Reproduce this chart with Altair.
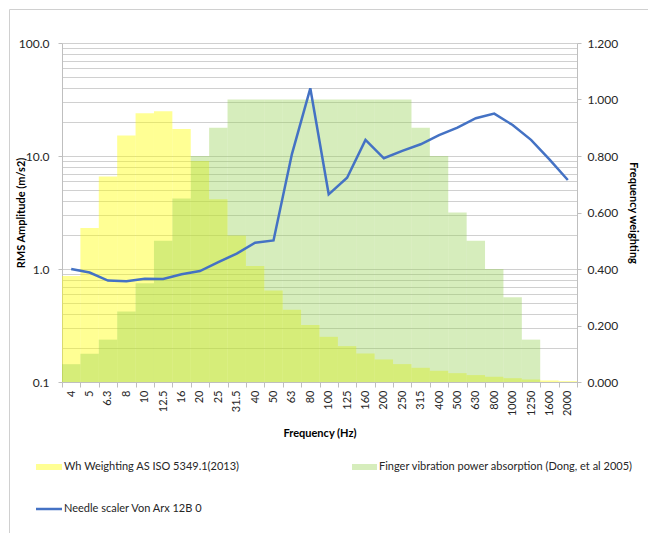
import altair as alt
import pandas as pd

# One-third-octave band centre frequencies (Hz)
freq_labels = ["4", "5", "6.3", "8", "10", "12.5", "16", "20", "25", "31.5",
               "40", "50", "63", "80", "100", "125", "160", "200", "250", "315",
               "400", "500", "630", "800", "1000", "1250", "1600", "2000"]

# Wh frequency weighting (right axis)
wh_weighting = [0.375, 0.545, 0.727, 0.873, 0.951, 0.958, 0.896, 0.782, 0.647, 0.519,
                0.411, 0.324, 0.256, 0.202, 0.160, 0.127, 0.101, 0.0799, 0.0634, 0.0503,
                0.0398, 0.0314, 0.0245, 0.0186, 0.0135, 0.00894, 0.00536, 0.00295]

# Finger vibration power absorption weighting (right axis)
finger_absorption = [0.063, 0.10, 0.15, 0.25, 0.35, 0.50, 0.65, 0.80, 0.90, 1.0,
                     1.0, 1.0, 1.0, 1.0, 1.0, 1.0, 1.0, 1.0, 1.0, 0.90,
                     0.80, 0.60, 0.50, 0.40, 0.30, 0.15, 0.0, 0.0]

# Measured RMS amplitude of the needle scaler (left axis, m/s2)
needle_scaler = [1.00, 0.93, 0.79, 0.78, 0.82, 0.815, 0.90, 0.96, 1.15, 1.37,
                 1.71, 1.79, 10.4, 39.7, 4.58, 6.43, 13.9, 9.55, 11.1, 12.7,
                 15.3, 17.8, 21.6, 23.7, 18.8, 13.9, 9.35, 6.13]

# Left (log) axis tick positions: every 1..9 of each decade
log_ticks = [0.1, 0.2, 0.3, 0.4, 0.5, 0.6, 0.7, 0.8, 0.9,
             1, 2, 3, 4, 5, 6, 7, 8, 9,
             10, 20, 30, 40, 50, 60, 70, 80, 90, 100]
weight_ticks = [0, 0.2, 0.4, 0.6, 0.8, 1.0, 1.2]

df = pd.DataFrame({
    "freq": freq_labels,
    "wh": wh_weighting,
    "finger": finger_absorption,
    "needle": needle_scaler,
})

FONT = "Lato"
TXT = "#262626"
AXIS_GREY = "#bfbfbf"
YELLOW = "#FFFF00"
GREEN = "#92D050"
BLUE = "#4472C4"
W, H = 515, 339

x_enc = alt.X(
    "freq:O", sort=freq_labels,
    scale=alt.Scale(paddingInner=0, paddingOuter=0),
    axis=alt.Axis(
        title="Frequency (Hz)", labelAngle=270, tickBand="extent",
        labelFont=FONT, labelFontSize=11, labelColor=TXT, labelPadding=3,
        tickSize=5, tickColor=AXIS_GREY, domainColor=AXIS_GREY,
        titleFont=FONT, titleFontSize=11, titleFontWeight="bold",
        titleColor="#000000", titlePadding=12, grid=False,
    ),
)

weight_scale = alt.Scale(domain=[0, 1.2], nice=False, zero=True)
weight_axis = alt.Axis(
    orient="right", values=weight_ticks, format=".3f", grid=False,
    title="Frequency weighting", titleFont=FONT, titleFontSize=11,
    titleFontWeight="bold", titleColor="#000000", titlePadding=10,
    labelFont=FONT, labelFontSize=12, labelColor=TXT, labelPadding=6,
    tickSize=4, tickColor=AXIS_GREY, domainColor=AXIS_GREY,
)

decade = "datum.value == 0.1 || datum.value == 1 || datum.value == 10 || datum.value == 100"
amp_axis = alt.Axis(
    orient="left", values=log_ticks,
    labelExpr=f"({decade}) ? format(datum.value, '.1f') : ''",
    title="RMS Amplitude (m/s2)", titleFont=FONT, titleFontSize=11,
    titleFontWeight="bold", titleColor="#000000",
    titleX=-41, titleY=H / 2, titleAngle=270, titleAlign="center", titleBaseline="middle",
    labelFont=FONT, labelFontSize=12, labelColor=TXT, labelPadding=9,
    tickSize=4, tickColor=AXIS_GREY, domainColor=AXIS_GREY,
    tickOpacity={"condition": {"test": decade, "value": 1}, "value": 0},
    grid=True, gridColor="#d0d0d0", gridWidth=1,
)

wh_bars = alt.Chart(df).mark_bar(color=YELLOW, opacity=0.42).encode(
    x=x_enc, y=alt.Y("wh:Q", scale=weight_scale, axis=weight_axis),
)
finger_bars = alt.Chart(df).mark_bar(color=GREEN, opacity=0.38).encode(
    x=x_enc, y=alt.Y("finger:Q", scale=weight_scale, axis=weight_axis),
)
weights = alt.layer(wh_bars, finger_bars)

needle_line = alt.Chart(df).mark_line(color=BLUE, strokeWidth=2.5).encode(
    x=x_enc,
    y=alt.Y("needle:Q", scale=alt.Scale(type="log", domain=[0.1, 100], nice=False),
            axis=amp_axis),
)

one = alt.Data(values=[{}])

# Outer chart frame
frame = alt.Chart(one).mark_rect(filled=False, stroke="#d0d0d0", strokeWidth=1).encode(
    x=alt.value(-52.5), x2=alt.value(W + 100), y=alt.value(-33.5), y2=alt.value(H + 200),
)

# Legend: swatches and labels below the x-axis title
def legend_text(label, x, y):
    return alt.Chart(one).mark_text(
        text=label, align="left", baseline="middle", font=FONT, fontSize=11, color=TXT,
    ).encode(x=alt.value(x), y=alt.value(y))

wh_swatch = alt.Chart(one).mark_rect(color=YELLOW, opacity=0.42).encode(
    x=alt.value(-26), x2=alt.value(0), y=alt.value(421), y2=alt.value(427),
)
finger_swatch = alt.Chart(one).mark_rect(color=GREEN, opacity=0.38).encode(
    x=alt.value(290), x2=alt.value(315), y=alt.value(421), y2=alt.value(427),
)
needle_swatch = alt.Chart(one).mark_rule(color=BLUE, strokeWidth=2.5).encode(
    x=alt.value(-26), x2=alt.value(0), y=alt.value(466),
)

chart = alt.layer(
    frame,
    weights,
    needle_line,
    wh_swatch, legend_text("Wh Weighting AS ISO 5349.1(2013)", 2, 424),
    finger_swatch, legend_text("Finger vibration power absorption (Dong, et al 2005)", 317, 424),
    needle_swatch, legend_text("Needle scaler Von Arx 12B 0", 2, 466),
).resolve_scale(y="independent").properties(
    width=W, height=H,
    autosize=alt.AutoSizeParams(type="none"),
    padding={"left": 62, "top": 43, "right": 71, "bottom": 151},
    background="#ffffff",
).configure_view(stroke=None)

chart.save("out.html", embed_options={"renderer": "svg", "actions": False})
